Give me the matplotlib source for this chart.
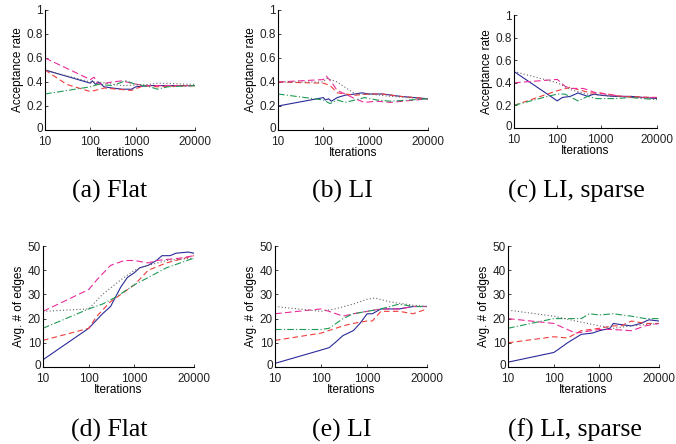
import numpy as np
import matplotlib.pyplot as plt
from matplotlib.transforms import ScaledTranslation

plt.rcParams['font.family'] = ['Liberation Sans', 'DejaVu Sans']

# ---- data: (iterations, value) pairs per curve ----
# acceptance rate, Flat
a_blue_x = [10, 100, 110, 130, 150, 200, 300, 500, 800, 1000, 2000, 5000, 20000]
a_blue_y = [0.50, 0.39, 0.41, 0.38, 0.40, 0.36, 0.35, 0.34, 0.34, 0.36, 0.37, 0.37, 0.37]
a_red_x = [10, 30, 100, 200, 400, 800, 1500, 3000, 20000]
a_red_y = [0.50, 0.38, 0.32, 0.35, 0.34, 0.33, 0.37, 0.36, 0.37]
a_mag_x = [10, 100, 120, 150, 300, 500, 800, 1500, 3000, 20000]
a_mag_y = [0.60, 0.42, 0.44, 0.38, 0.40, 0.41, 0.39, 0.37, 0.37, 0.37]
a_grn_x = [10, 100, 150, 300, 600, 1000, 2000, 3000, 5000, 20000]
a_grn_y = [0.30, 0.36, 0.38, 0.37, 0.41, 0.38, 0.36, 0.34, 0.36, 0.37]
a_blk_x = [10, 100, 150, 500, 2000, 3000, 20000]
a_blk_y = [0.50, 0.40, 0.40, 0.37, 0.38, 0.39, 0.38]

# acceptance rate, LI
b_blue_x = [10, 100, 110, 130, 150, 200, 300, 500, 700, 1000, 2000, 5000, 20000]
b_blue_y = [0.20, 0.27, 0.25, 0.26, 0.24, 0.27, 0.29, 0.30, 0.31, 0.30, 0.30, 0.28, 0.26]
b_red_x = [10, 100, 120, 150, 200, 300, 500, 1000, 2000, 5000, 20000]
b_red_y = [0.40, 0.39, 0.38, 0.36, 0.31, 0.30, 0.29, 0.30, 0.30, 0.28, 0.26]
b_mag_x = [10, 100, 115, 150, 200, 300, 500, 800, 1500, 3000, 20000]
b_mag_y = [0.40, 0.42, 0.45, 0.40, 0.33, 0.30, 0.26, 0.23, 0.24, 0.23, 0.26]
b_grn_x = [10, 100, 140, 200, 300, 500, 800, 1500, 3000, 20000]
b_grn_y = [0.30, 0.25, 0.22, 0.25, 0.23, 0.25, 0.27, 0.25, 0.24, 0.26]
b_blk_x = [10, 100, 120, 200, 500, 1000, 3000, 20000]
b_blk_y = [0.40, 0.40, 0.43, 0.40, 0.30, 0.30, 0.28, 0.26]

# acceptance rate, LI sparse
c_blue_x = [10, 100, 130, 200, 300, 500, 700, 1000, 2000, 5000, 20000]
c_blue_y = [0.50, 0.24, 0.27, 0.28, 0.31, 0.28, 0.30, 0.29, 0.28, 0.28, 0.26]
c_red_x = [10, 100, 200, 300, 600, 1000, 3000, 20000]
c_red_y = [0.20, 0.33, 0.36, 0.34, 0.31, 0.31, 0.28, 0.27]
c_mag_x = [10, 100, 150, 200, 400, 800, 2000, 5000, 20000]
c_mag_y = [0.40, 0.43, 0.37, 0.35, 0.35, 0.31, 0.29, 0.27, 0.27]
c_grn_x = [10, 60, 100, 150, 300, 500, 800, 2000, 5000, 20000]
c_grn_y = [0.20, 0.28, 0.30, 0.30, 0.24, 0.28, 0.26, 0.26, 0.27, 0.25]
c_blk_x = [10, 100, 200, 500, 2000, 20000]
c_blk_y = [0.50, 0.40, 0.34, 0.30, 0.28, 0.26]

# avg. number of edges, Flat
d_blue_x = [10, 100, 200, 300, 500, 700, 1000, 1300, 2000, 3000, 4000, 6000, 8000, 15000, 20000]
d_blue_y = [3, 16, 22, 25, 33, 37, 39, 41, 42, 44, 46, 46, 47, 47.5, 47]
d_red_x = [10, 100, 150, 300, 600, 1000, 2000, 5000, 20000]
d_red_y = [11, 16, 21, 27, 31, 34, 40, 43, 46]
d_mag_x = [10, 100, 150, 300, 600, 1000, 2000, 3000, 10000, 20000]
d_mag_y = [23, 32, 36, 42, 44, 44, 43, 44, 45, 46]
d_grn_x = [10, 100, 200, 400, 1000, 2000, 5000, 10000, 20000]
d_grn_y = [16, 24, 26, 29, 34, 37, 41, 43, 45]
d_blk_x = [10, 100, 200, 500, 1000, 2000, 5000, 20000]
d_blk_y = [23, 24, 30, 36, 40, 42, 44, 45]

# avg. number of edges, LI
e_blue_x = [10, 100, 150, 200, 300, 500, 700, 1000, 1300, 2000, 5000, 10000, 20000]
e_blue_y = [1.5, 7, 8, 10, 13, 15, 18, 22, 22, 24, 24, 25, 25]
e_red_x = [10, 100, 300, 500, 1000, 1300, 2000, 5000, 10000, 20000]
e_red_y = [11, 14, 17, 18, 19, 19, 23, 23, 22, 24]
e_mag_x = [10, 100, 150, 300, 500, 1000, 2000, 5000, 10000, 20000]
e_mag_y = [22, 24, 23, 21, 22, 23, 24, 24, 25, 25]
e_grn_x = [10, 100, 150, 300, 500, 1000, 2000, 5000, 10000, 20000]
e_grn_y = [15.5, 15.5, 16, 20, 22, 23, 24, 26, 25, 25]
e_blk_x = [10, 100, 200, 500, 1000, 1500, 3000, 10000, 20000]
e_blk_y = [25, 23, 24, 26, 28, 28.5, 27, 25.5, 25]

# avg. number of edges, LI sparse
f_blue_x = [10, 100, 120, 200, 400, 700, 1000, 1700, 2000, 3000, 5000, 8000, 12000, 20000]
f_blue_y = [2, 6, 7, 10, 13.5, 14, 15, 16, 18, 17.5, 17, 18, 19.5, 19]
f_red_x = [10, 100, 200, 400, 1000, 2000, 3000, 5000, 10000, 20000]
f_red_y = [10, 12.5, 12, 15, 16, 17, 17, 19, 18, 18]
f_mag_x = [10, 100, 300, 1000, 2000, 5000, 10000, 20000]
f_mag_y = [20, 18, 14, 15.5, 15.5, 15, 17, 18]
f_grn_x = [10, 100, 200, 400, 600, 1000, 2000, 5000, 10000, 20000]
f_grn_y = [16, 20, 20, 20, 22, 21.5, 22, 21, 20, 20]
f_blk_x = [10, 100, 300, 1000, 2000, 5000, 20000]
f_blk_y = [23.5, 21, 19, 17, 16, 17, 18]

captions = ['(a) Flat', '(b) LI', '(c) LI, sparse', '(d) Flat', '(e) LI', '(f) LI, sparse']
xticks = [10, 100, 1000, 20000]
xticklabels = ['10', '100', '1000', '20000']

panels = [
    [(a_blue_x, a_blue_y), (a_red_x, a_red_y), (a_mag_x, a_mag_y), (a_grn_x, a_grn_y), (a_blk_x, a_blk_y)],
    [(b_blue_x, b_blue_y), (b_red_x, b_red_y), (b_mag_x, b_mag_y), (b_grn_x, b_grn_y), (b_blk_x, b_blk_y)],
    [(c_blue_x, c_blue_y), (c_red_x, c_red_y), (c_mag_x, c_mag_y), (c_grn_x, c_grn_y), (c_blk_x, c_blk_y)],
    [(d_blue_x, d_blue_y), (d_red_x, d_red_y), (d_mag_x, d_mag_y), (d_grn_x, d_grn_y), (d_blk_x, d_blk_y)],
    [(e_blue_x, e_blue_y), (e_red_x, e_red_y), (e_mag_x, e_mag_y), (e_grn_x, e_grn_y), (e_blk_x, e_blk_y)],
    [(f_blue_x, f_blue_y), (f_red_x, f_red_y), (f_mag_x, f_mag_y), (f_grn_x, f_grn_y), (f_blk_x, f_blk_y)],
]

styles = [
    dict(color='#2a2a9a', linestyle='-'),
    dict(color='#f03c3c', linestyle=(0, (5, 3))),
    dict(color='#ec2a9a', linestyle=(0, (6, 3))),
    dict(color='#1f9a55', linestyle=(0, (6, 2, 1, 2))),
    dict(color='#666666', linestyle=(0, (1, 2))),
]

W, H = 676, 444
# axes boxes in pixels: left, top, right, bottom
boxes = [
    (45, 10, 195, 130), (278, 10, 428, 130), (514, 15, 657, 128),
    (43, 246, 194, 367), (275, 246, 427, 367), (508, 246, 659, 367),
]
cap_pos = [(110, 191), (342, 191), (576, 191), (109, 430), (342, 430), (575, 430)]

fig = plt.figure(figsize=(W / 100, H / 100), dpi=100)
nudge_up = ScaledTranslation(0, 2.5 / 100, fig.dpi_scale_trans)

for i, (box, series) in enumerate(zip(boxes, panels)):
    l, t, r, b = box
    ax = fig.add_axes([l / W, 1 - b / H, (r - l) / W, (b - t) / H])
    for (xs, ys), st in zip(series, styles):
        ax.plot(xs, ys, linewidth=0.8, **st)
    ax.set_xscale('log')
    ax.set_xlim(10, 20000)
    ax.set_xticks(xticks)
    ax.set_xticklabels(xticklabels)
    ax.minorticks_off()
    if i < 3:
        ax.set_ylim(0, 1)
        ax.set_yticks([0, 0.2, 0.4, 0.6, 0.8, 1])
        ax.set_yticklabels(['0', '0.2', '0.4', '0.6', '0.8', '1'])
        ax.set_ylabel('Acceptance rate', fontsize=8.5, labelpad=2)
    else:
        ax.set_ylim(0, 50)
        ax.set_yticks([0, 10, 20, 30, 40, 50])
        ax.set_ylabel('Avg. # of edges', fontsize=8.5, labelpad=2)
    ax.set_xlabel('Iterations', fontsize=8.5, labelpad=-1)
    ax.spines['top'].set_visible(False)
    ax.spines['right'].set_visible(False)
    ax.tick_params(direction='in', length=2, width=0.6, labelsize=8.5, colors='#222222')
    ax.tick_params(axis='x', pad=4.5)
    ax.tick_params(axis='y', pad=1.5)
    # lift the bottom y label a couple of pixels so it clears the first x label
    lab0 = ax.yaxis.get_major_ticks()[0].label1
    lab0.set_transform(lab0.get_transform() + nudge_up)
    for s in ('left', 'bottom'):
        ax.spines[s].set_linewidth(0.8)
    fig.text(cap_pos[i][0] / W, 1 - cap_pos[i][1] / H, captions[i],
             fontsize=18.5, family='Liberation Serif', ha='center', va='center')

fig.savefig('out.png', dpi=100)
